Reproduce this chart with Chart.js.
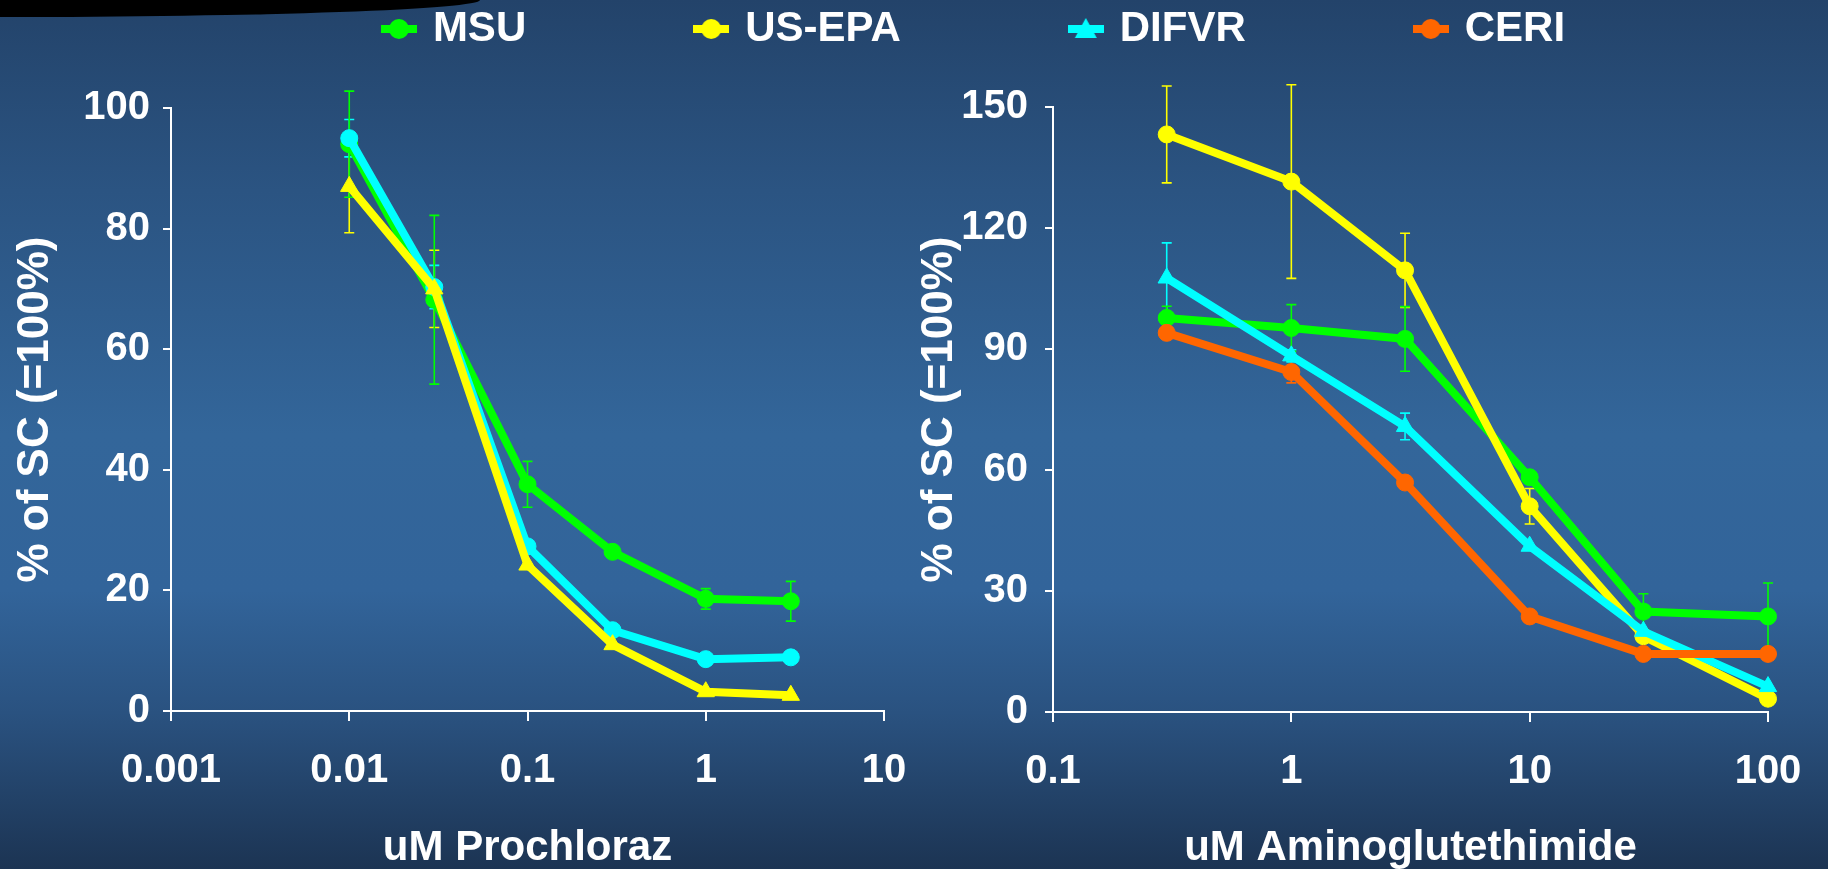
<!DOCTYPE html>
<html>
<head>
<meta charset="utf-8">
<title>Prochloraz / Aminoglutethimide</title>
<script src="https://cdn.jsdelivr.net/npm/chart.js@4.4.1/dist/chart.umd.min.js"></script>
<style>
  html, body { margin: 0; padding: 0; width: 1828px; height: 869px; overflow: hidden; }
  body {
    position: relative;
    background: linear-gradient(to bottom, #23436a 0%, #2b5482 22%, #33669a 50%, #32649a 68%, #2a5280 82%, #1c3453 100%);
  }
  #swoosh {
    position: absolute; left: 0; top: 0; width: 480px; height: 17px;
    background: #000; border-bottom-right-radius: 480px 17px;
  }
  canvas { position: absolute; top: 0; }
  #leftChart { left: 0; }
  #rightChart { left: 890px; }
</style>
</head>
<body>
<div id="swoosh"></div>
<canvas id="leftChart" width="1951" height="869"></canvas>
<canvas id="rightChart" width="938" height="869"></canvas>
<script>
// ---- data ----
const seriesNames = ['MSU', 'US-EPA', 'DIFVR', 'CERI'];

// left panel: uM Prochloraz
const leftDoses = [0.01, 0.03, 0.1, 0.3, 1, 3];
const leftTicks = [0.001, 0.01, 0.1, 1, 10];
const leftTickLabels = ['0.001', '0.01', '0.1', '1', '10'];
const leftMSU = [94, 68.2, 37.6, 26.4, 18.6, 18.2];
const leftMSUErr = [8.8, 14, 3.8, 0, 1.7, 3.3];
const leftEPA = [87, 70, 24.2, 11, 3.2, 2.6];
const leftEPAErr = [7.7, 6.4, 0, 0, 0, 0];
const leftDIFVR = [95, 70.3, 27.3, 13.4, 8.6, 8.9];
const leftDIFVRErr = [3.1, 3.6, 0, 0, 0, 0];

// right panel: uM Aminoglutethimide
const rightDoses = [0.3, 1, 3, 10, 30, 100];
const rightTicks = [0.1, 1, 10, 100];
const rightTickLabels = ['0.1', '1', '10', '100'];
const rightMSU = [97.7, 95.2, 92.5, 58.2, 24.9, 23.7];
const rightMSUErr = [2.9, 5.8, 8, 0, 4.4, 8.3];
const rightEPA = [143.2, 131.5, 109.5, 51, 18.8, 3.3];
const rightEPAErr = [12, 24, 9.2, 4.4, 0, 0];
const rightDIFVR = [107.6, 88.3, 70.8, 41.1, 20, 6.3];
const rightDIFVRErr = [8.7, 1.5, 3.3, 0, 0, 0];
const rightCERI = [94, 84.3, 56.9, 23.7, 14.4, 14.4];
const rightCERIErr = [0, 2.7, 0, 0, 0, 0];

const GREEN = '#00ff00', YELLOW = '#ffff00', CYAN = '#00ffff', ORANGE = '#ff6600';
const FONT = "'Liberation Sans', Arial, Helvetica, sans-serif";
Chart.defaults.font.family = FONT;
Chart.defaults.color = '#ffffff';

function series(label, color, shape, xs, ys, errs) {
  return {
    label: label,
    data: xs.map((x, i) => ({ x: x, y: ys[i] })),
    errors: errs,
    borderColor: color,
    backgroundColor: color,
    pointBackgroundColor: color,
    pointBorderColor: color,
    borderWidth: 8,
    pointStyle: shape,
    pointRadius: shape === 'triangle' ? 10 : 8.5,
    pointBorderWidth: 1,
    tension: 0,
    clip: false
  };
}

// vertical error bars with small caps, drawn under the lines
const errorBars = {
  id: 'errorBars',
  beforeDatasetsDraw(chart) {
    const ctx = chart.ctx;
    chart.data.datasets.forEach((ds, i) => {
      if (!ds.errors) return;
      const meta = chart.getDatasetMeta(i);
      const xs = chart.scales[meta.xAxisID];
      const ys = chart.scales[meta.yAxisID];
      ctx.save();
      ctx.strokeStyle = ds.borderColor;
      ctx.lineWidth = 1.6;
      ds.data.forEach((p, j) => {
        const e = ds.errors[j];
        if (!e) return;
        const x = xs.getPixelForValue(p.x);
        const top = ys.getPixelForValue(p.y + e);
        const bot = ys.getPixelForValue(p.y - e);
        ctx.beginPath();
        ctx.moveTo(x, top); ctx.lineTo(x, bot);
        ctx.moveTo(x - 5, top); ctx.lineTo(x + 5, top);
        ctx.moveTo(x - 5, bot); ctx.lineTo(x + 5, bot);
        ctx.stroke();
      });
      ctx.restore();
    });
  }
};

// little "line + marker" icons for the legend
function makeIcon(color, shape) {
  const c = document.createElement('canvas');
  c.width = 36; c.height = 24;
  const g = c.getContext('2d');
  g.fillStyle = color; g.strokeStyle = color; g.lineWidth = 8;
  g.beginPath(); g.moveTo(0, 12); g.lineTo(36, 12); g.stroke();
  g.beginPath();
  if (shape === 'triangle') {
    g.moveTo(18, 1); g.lineTo(29, 21); g.lineTo(7, 21); g.closePath();
  } else {
    g.arc(18, 12, 10, 0, Math.PI * 2);
  }
  g.fill();
  return c;
}
const legendColors = [GREEN, YELLOW, CYAN, ORANGE];
const legendShapes = ['circle', 'circle', 'triangle', 'circle'];

function logAxis(ticks, labels, min, max, title, fit) {
  return {
    type: 'logarithmic',
    min: min, max: max,
    afterBuildTicks: s => { s.ticks = ticks.map(v => ({ value: v })); },
    afterFit: fit,
    ticks: {
      autoSkip: false, maxRotation: 0, padding: 26, color: '#fff',
      font: { size: 40, weight: 'bold' },
      callback: (v) => labels[ticks.indexOf(v)]
    },
    grid: { drawOnChartArea: false, drawTicks: true, tickLength: 10, color: '#fff', lineWidth: 2 },
    border: { display: true, color: '#fff', width: 2 },
    title: {
      display: true, text: title, color: '#fff',
      font: { size: 42, weight: 'bold', lineHeight: 1 }, padding: { top: 0, bottom: 0 }
    }
  };
}

function linAxis(max, step, title, titlePad, tickPad, fit) {
  return {
    type: 'linear',
    min: 0, max: max,
    afterFit: fit,
    ticks: { stepSize: step, padding: tickPad, color: '#fff', font: { size: 40, weight: 'bold' } },
    grid: { drawOnChartArea: false, drawTicks: true, tickLength: 8, color: '#fff', lineWidth: 2 },
    border: { display: true, color: '#fff', width: 2 },
    title: {
      display: true, text: title, color: '#fff',
      font: { size: 44, weight: 'bold', lineHeight: 1 }, padding: { top: titlePad, bottom: 0 }
    }
  };
}

new Chart(document.getElementById('leftChart'), {
  type: 'line',
  data: {
    datasets: [
      series('US-EPA', YELLOW, 'triangle', leftDoses, leftEPA, leftEPAErr),
      series('DIFVR', CYAN, 'circle', leftDoses, leftDIFVR, leftDIFVRErr),
      series('MSU', GREEN, 'circle', leftDoses, leftMSU, leftMSUErr)
    ]
  },
  options: {
    responsive: false,
    animation: false,
    layout: { padding: { top: -164, left: 0, right: 0, bottom: 0 } },
    plugins: {
      tooltip: { enabled: false },
      legend: {
        display: true,
        position: 'top',
        labels: {
          color: '#fff',
          font: { size: 42, weight: 'bold' },
          usePointStyle: true,
          pointStyleWidth: 26,
          padding: 172,
          generateLabels: () => seriesNames.map((name, i) => ({
            text: name,
            fontColor: '#fff',
            fillStyle: legendColors[i],
            strokeStyle: legendColors[i],
            lineWidth: 0,
            pointStyle: makeIcon(legendColors[i], legendShapes[i]),
            hidden: false,
            datasetIndex: i
          }))
        }
      }
    },
    scales: {
      x: logAxis(leftTicks, leftTickLabels, 0.001, 10, 'uM Prochloraz',
        s => { s.height = 158; s.paddingRight = 1951 - 884; }),
      y: linAxis(100, 20, '% of SC (=100%)', 14, 13,
        s => { s.width = 171; s.paddingTop = 108; }),
      // empty band between the legend and the plot
      gap: {
        type: 'linear', position: 'top', display: true,
        ticks: { display: false },
        grid: { display: false, drawTicks: false },
        border: { display: false },
        afterFit: s => { s.height = 48; }
      }
    }
  },
  plugins: [errorBars]
});

new Chart(document.getElementById('rightChart'), {
  type: 'line',
  data: {
    datasets: [
      series('CERI', ORANGE, 'circle', rightDoses, rightCERI, rightCERIErr),
      series('DIFVR', CYAN, 'triangle', rightDoses, rightDIFVR, rightDIFVRErr),
      series('US-EPA', YELLOW, 'circle', rightDoses, rightEPA, rightEPAErr),
      series('MSU', GREEN, 'circle', rightDoses, rightMSU, rightMSUErr)
    ]
  },
  options: {
    responsive: false,
    animation: false,
    plugins: { legend: { display: false }, tooltip: { enabled: false } },
    scales: {
      x: logAxis(rightTicks, rightTickLabels, 0.1, 100, 'uM Aminoglutethimide',
        s => { s.height = 157; s.paddingRight = 60; }),
      y: linAxis(150, 30, '% of SC (=100%)', 28, 17,
        s => { s.width = 163; s.paddingTop = 107; })
    }
  },
  plugins: [errorBars]
});
</script>
</body>
</html>
